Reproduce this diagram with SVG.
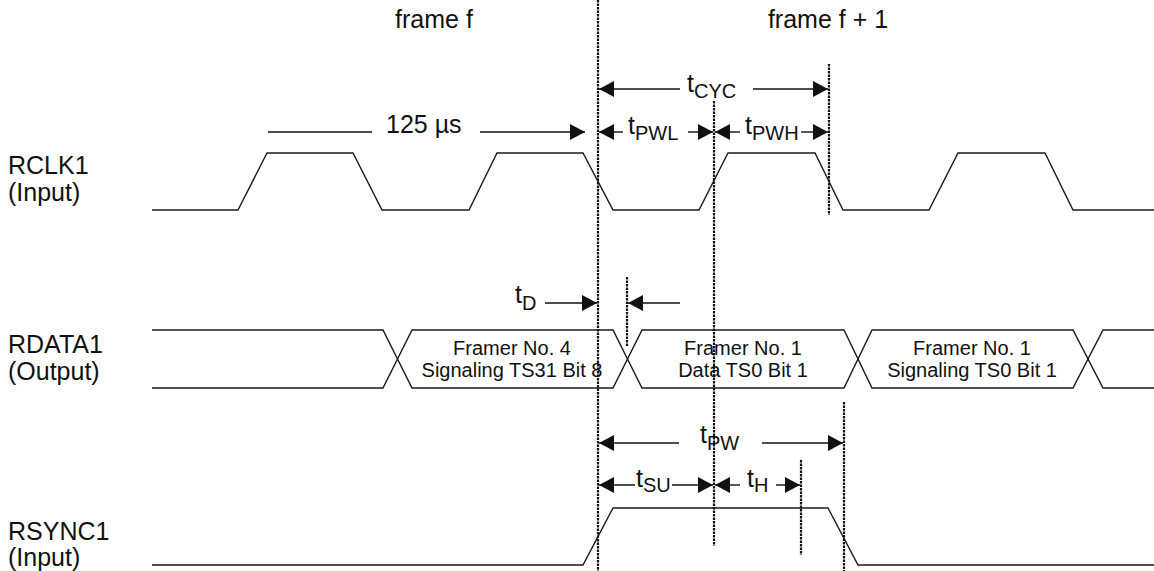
<svg xmlns="http://www.w3.org/2000/svg" width="1154" height="571" viewBox="0 0 1154 571">
<style>
.w{fill:none;stroke:#1a1a1a;stroke-width:1.4;stroke-linejoin:miter}
.d{fill:none;stroke:#111;stroke-width:2.2;stroke-dasharray:2.5 1}
.a{fill:none;stroke:#111;stroke-width:1.4}
.t{font-family:"Liberation Sans",Arial,sans-serif;font-size:25px;fill:#111}
.s{font-size:20px}
.c{font-family:"Liberation Sans",Arial,sans-serif;font-size:20px;fill:#111;text-anchor:middle}
</style>
<defs>
<marker id="ah" viewBox="0 0 15 16" refX="15" refY="8" markerWidth="15" markerHeight="16" markerUnits="userSpaceOnUse" orient="auto">
<path d="M0,0 L15,8 L0,16 z" fill="#111"/>
</marker>
</defs>
<rect width="1154" height="571" fill="#fff"/>

<g id="labels">
<text class="t" x="434" y="28" text-anchor="middle">frame f</text>
<text class="t" x="828" y="28" text-anchor="middle">frame f + 1</text>
<text class="t" x="8" y="174">RCLK1</text>
<text class="t" x="8" y="201">(Input)</text>
<text class="t" x="8" y="353">RDATA1</text>
<text class="t" x="8" y="380">(Output)</text>
<text class="t" x="8" y="540">RSYNC1</text>
<text class="t" x="8" y="566">(Input)</text>
</g>

<g id="rclk1">
<path class="w" d="M152,210 H238 L267,153 H353 L382,210 H469 L497,153 H583 L613,210 H699 L728,153 H815 L843,210 H929 L958,153 H1045 L1073,210 H1154"/>
</g>

<g id="rdata1">
<path class="w" d="M152,330 H383 L412,388 H613 L642,330 H844 L872,388 H1073 L1103,330 H1154"/>
<path class="w" d="M152,388 H383 L412,330 H613 L642,388 H844 L872,330 H1073 L1103,388 H1154"/>
<text class="c" x="512" y="355">Framer No. 4</text>
<text class="c" x="512" y="377">Signaling TS31 Bit 8</text>
<text class="c" x="743" y="355">Framer No. 1</text>
<text class="c" x="743" y="377">Data TS0 Bit 1</text>
<text class="c" x="972" y="355">Framer No. 1</text>
<text class="c" x="972" y="377">Signaling TS0 Bit 1</text>
</g>

<g id="rsync1">
<path class="w" d="M152,565 H583 L613,508 H828 L858,565 H1154"/>
</g>

<g id="reference-lines">
<line class="d" x1="598" y1="0" x2="598" y2="571"/>
<line class="d" x1="714" y1="101" x2="714" y2="546"/>
<line class="d" x1="829" y1="64" x2="829" y2="215"/>
<line class="d" x1="627" y1="277" x2="627" y2="347"/>
<line class="d" x1="844" y1="402" x2="844" y2="571"/>
<line class="d" x1="801" y1="460" x2="801" y2="555"/>
</g>

<g id="connectors">
<line class="a" x1="268" y1="132" x2="372" y2="132"/>
<line class="a" x1="480" y1="132" x2="585" y2="132" marker-end="url(#ah)"/>
<line class="a" x1="680" y1="89" x2="599" y2="89" marker-end="url(#ah)"/>
<line class="a" x1="753" y1="89" x2="828" y2="89" marker-end="url(#ah)"/>
<line class="a" x1="623" y1="132" x2="599" y2="132" marker-end="url(#ah)"/>
<line class="a" x1="688" y1="132" x2="713" y2="132" marker-end="url(#ah)"/>
<line class="a" x1="740" y1="132" x2="715" y2="132" marker-end="url(#ah)"/>
<line class="a" x1="801" y1="132" x2="828" y2="132" marker-end="url(#ah)"/>
<line class="a" x1="545" y1="303" x2="597" y2="303" marker-end="url(#ah)"/>
<line class="a" x1="680" y1="303" x2="628" y2="303" marker-end="url(#ah)"/>
<line class="a" x1="679" y1="443" x2="599" y2="443" marker-end="url(#ah)"/>
<line class="a" x1="762" y1="443" x2="843" y2="443" marker-end="url(#ah)"/>
<line class="a" x1="635" y1="485" x2="599" y2="485" marker-end="url(#ah)"/>
<line class="a" x1="672" y1="485" x2="713" y2="485" marker-end="url(#ah)"/>
<line class="a" x1="740" y1="485" x2="715" y2="485" marker-end="url(#ah)"/>
<line class="a" x1="776" y1="485" x2="800" y2="485" marker-end="url(#ah)"/>
</g>

<g id="timing-labels">
<text class="t" x="386" y="133">125 µs</text>
<text class="t" x="687" y="92">t<tspan class="s" dy="6">CYC</tspan></text>
<text class="t" x="628" y="134">t<tspan class="s" dy="6">PWL</tspan></text>
<text class="t" x="745" y="134">t<tspan class="s" dy="6">PWH</tspan></text>
<text class="t" x="515" y="303">t<tspan class="s" dy="7">D</tspan></text>
<text class="t" x="700" y="443">t<tspan class="s" dy="7">PW</tspan></text>
<text class="t" x="636" y="487">t<tspan class="s" dy="5">SU</tspan></text>
<text class="t" x="747" y="487">t<tspan class="s" dy="5">H</tspan></text>
</g>
</svg>
